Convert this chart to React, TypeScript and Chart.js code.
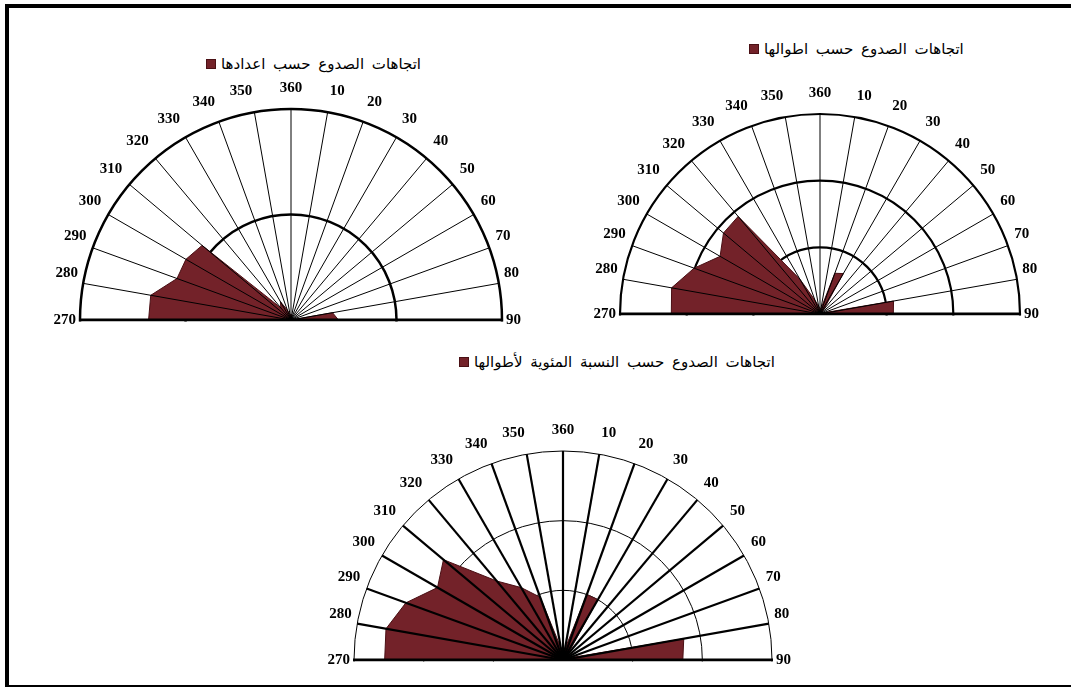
import React, { useEffect, useRef } from 'react';
import { Chart, registerables } from 'chart.js';

Chart.register(...registerables);

// Compass directions, clockwise from north (index 0 = 360).
const directionLabels = [
  '360', '10', '20', '30', '40', '50', '60', '70', '80', '90',
  '100', '110', '120', '130', '140', '150', '160', '170', '180',
  '190', '200', '210', '220', '230', '240', '250', '260',
  '270', '280', '290', '300', '310', '320', '330', '340', '350',
];

// Only the northern half (270 -> 360 -> 90) is drawn.
const shownDirections = [
  '270', '280', '290', '300', '310', '320', '330', '340', '350',
  '360', '10', '20', '30', '40', '50', '60', '70', '80', '90',
];

// Number of faults per direction.
const faultCounts = [
  1, 1, 0, 0, 0, 0, 0, 0, 8, 9,
  0, 0, 0, 0, 0, 0, 0, 0, 0,
  0, 0, 0, 0, 0, 0, 0, 0,
  27, 27, 23, 23, 22, 3, 4, 2, 1,
];

// Total fault length per direction.
const faultLengths = [
  0.8, 0.8, 6.5, 7, 0.8, 0.4, 0.4, 0.5, 11.2, 11,
  0, 0, 0, 0, 0, 0, 0, 0, 0,
  0, 0, 0, 0, 0, 0, 0, 0,
  22.3, 22.6, 20.1, 17.3, 18.9, 19.1, 6, 2.2, 1.2,
];

// Share of total fault length per direction (%).
const lengthShares = [
  0.6, 0.8, 5, 5, 0.5, 0.3, 0.3, 0.4, 8.8, 8.6,
  0, 0, 0, 0, 0, 0, 0, 0, 0,
  0, 0, 0, 0, 0, 0, 0, 0,
  12.8, 12.9, 12, 10.4, 11.2, 7.4, 6, 4.8, 0.9,
];

const countsTitle = 'اتجاهات الصدوع حسب اعدادها';
const lengthsTitle = 'اتجاهات الصدوع حسب اطوالها';
const sharesTitle = 'اتجاهات الصدوع حسب النسبة المئوية لأطوالها';

const FILL = '#732229';
const EDGE = '#4a1015';
const LABEL_SIZE = 15;
const LABEL_TOP_PAD = 12;
const LABEL_SIDE_PAD = 4;
const LABEL_ROOM = LABEL_TOP_PAD + LABEL_SIZE * 1.2;

const isShown = (label: string) => shownDirections.includes(label);

// Clips the lower half away, lays the spokes over the fill and draws the 270-90 base line.
const halfRosePlugin = {
  id: 'halfRose',
  beforeDraw(chart: any) {
    const scale = chart.scales.r;
    const { xCenter: x, yCenter: y, drawingArea: r } = scale;
    const ctx = chart.ctx;
    ctx.save();
    ctx.beginPath();
    ctx.rect(0, 0, chart.width, y + 1.5);
    ctx.rect(0, y, x - r - 3, 14);
    ctx.rect(x + r + 3, y, chart.width, 14);
    ctx.clip();
  },
  afterDatasetsDraw(chart: any, _args: any, opts: any) {
    const scale = chart.scales.r;
    const ctx = chart.ctx;
    const labels: string[] = chart.data.labels;
    ctx.save();
    ctx.strokeStyle = '#000';
    ctx.lineCap = 'butt';
    ctx.lineWidth = opts.spokeWidth;
    labels.forEach((label, i) => {
      if (!isShown(label)) return;
      const p = scale.getPointPositionForValue(i, scale.max);
      ctx.beginPath();
      ctx.moveTo(scale.xCenter, scale.yCenter);
      ctx.lineTo(p.x, p.y);
      ctx.stroke();
    });
    const west = scale.getPointPositionForValue(labels.indexOf('270'), scale.max);
    const east = scale.getPointPositionForValue(labels.indexOf('90'), scale.max);
    ctx.lineWidth = opts.baseWidth;
    ctx.beginPath();
    ctx.moveTo(west.x - 1, scale.yCenter);
    ctx.lineTo(east.x + 1, scale.yCenter);
    ctx.stroke();
    ctx.restore();
  },
  afterDraw(chart: any) {
    chart.ctx.restore();
  },
};

type RoseProps = {
  values: number[];
  max: number;
  step: number;
  cx: number;
  cy: number;
  radius: number;
  ringWidth: number;
  spokeWidth: number;
};

function HalfRose({ values, max, step, cx, cy, radius, ringWidth, spokeWidth }: RoseProps) {
  const ref = useRef<HTMLCanvasElement>(null);
  const height = 2 * (radius + LABEL_ROOM);
  const width = height + 80;

  useEffect(() => {
    if (!ref.current) return;
    const chart = new Chart(ref.current, {
      type: 'radar',
      data: {
        labels: directionLabels,
        datasets: [
          {
            data: values,
            backgroundColor: FILL,
            borderColor: EDGE,
            borderWidth: 1,
            pointRadius: 0,
            fill: true,
            tension: 0,
          },
        ],
      },
      options: {
        responsive: false,
        animation: false,
        devicePixelRatio: 1,
        events: [],
        layout: { padding: 0 },
        plugins: {
          legend: { display: false },
          tooltip: { enabled: false },
          halfRose: { spokeWidth, baseWidth: 3 },
        } as any,
        scales: {
          r: {
            min: 0,
            max,
            ticks: { display: false, stepSize: step },
            grid: { circular: true, color: '#000', lineWidth: ringWidth },
            angleLines: { display: false },
            pointLabels: {
              display: true,
              color: '#000',
              font: {
                family: '"Liberation Serif", "Times New Roman", serif',
                size: LABEL_SIZE,
                weight: 'bold',
              },
              padding: (ctx: any) =>
                LABEL_SIDE_PAD +
                (LABEL_TOP_PAD - LABEL_SIDE_PAD) * Math.abs(Math.cos((ctx.index * Math.PI) / 18)),
              callback: (label: string) => (isShown(label) ? label : ''),
            },
          },
        },
      },
      plugins: [halfRosePlugin],
    });
    return () => chart.destroy();
  }, [values, max, step, ringWidth, spokeWidth]);

  return (
    <div
      style={{
        position: 'absolute',
        left: cx - width / 2,
        top: cy - height / 2,
        width,
        height: height / 2 + 12,
        overflow: 'hidden',
      }}
    >
      <canvas ref={ref} width={width} height={height} />
    </div>
  );
}

function LegendKey({ left, midY, text }: { left: number; midY: number; text: string }) {
  return (
    <div
      style={{
        position: 'absolute',
        left,
        top: midY - 10,
        height: 20,
        display: 'flex',
        alignItems: 'center',
        whiteSpace: 'nowrap',
      }}
    >
      <span
        style={{
          width: 10,
          height: 10,
          background: FILL,
          border: `1px solid ${EDGE}`,
          boxSizing: 'border-box',
          marginRight: 5,
          display: 'inline-block',
        }}
      />
      <span
        dir="rtl"
        style={{
          fontFamily: '"DejaVu Sans", sans-serif',
          fontSize: 15,
          wordSpacing: 3,
          color: '#000',
          lineHeight: '20px',
        }}
      >
        {text}
      </span>
    </div>
  );
}

export default function App() {
  return (
    <div
      style={{
        position: 'absolute',
        left: 0,
        top: 0,
        width: 1071,
        height: 688,
        overflow: 'hidden',
        background: '#fff',
      }}
    >
      <div
        style={{
          position: 'absolute',
          left: 5,
          top: 4,
          width: 1100,
          height: 683,
          borderTop: '4px solid #000',
          borderLeft: '4px solid #000',
          borderBottom: '2px solid #000',
          boxSizing: 'border-box',
        }}
      />
      <LegendKey left={206} midY={64} text={countsTitle} />
      <LegendKey left={749} midY={49} text={lengthsTitle} />
      <LegendKey left={459} midY={362} text={sharesTitle} />
      <HalfRose values={faultCounts} max={40} step={20} cx={291} cy={320} radius={211} ringWidth={2.5} spokeWidth={1} />
      <HalfRose values={faultLengths} max={30} step={10} cx={820} cy={314} radius={200} ringWidth={2.2} spokeWidth={1} />
      <HalfRose values={lengthShares} max={15} step={5} cx={563} cy={660} radius={209} ringWidth={1} spokeWidth={2.2} />
    </div>
  );
}
